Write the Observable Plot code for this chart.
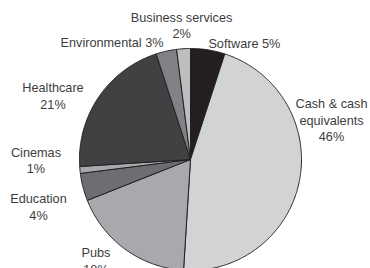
<!DOCTYPE html>
<html>
<head>
<meta charset="utf-8">
<script src="https://cdn.jsdelivr.net/npm/d3@7"></script>
<script src="https://cdn.jsdelivr.net/npm/@observablehq/plot@0.6"></script>
<style>
  html, body { margin: 0; padding: 0; background: #fff; }
  #chart svg { display: block; }
</style>
</head>
<body>
<div id="chart"></div>
<script>
// ---- Data ----
const categories = ["Software", "Cash & cash equivalents", "Pubs", "Education", "Cinemas", "Healthcare", "Environmental", "Business services"];
const values = [5, 46, 18, 4, 1, 21, 3, 2];
const labels = ["Software 5%", "Cash & cash\nequivalents\n46%", "Pubs\n18%", "Education\n4%", "Cinemas\n1%", "Healthcare\n21%", "Environmental 3%", "Business services\n2%"];
const colors = ["#231f20", "#d1d3d4", "#a7a9ac", "#6d6e71", "#a7a9ac", "#414042", "#808285", "#bcbec0"];

// ---- Label layout (polar: angle clockwise from top in degrees, radius relative to pie) ----
const labelAngle = [8.7, 74.2, 223.2, 253, 270, 295, 347.1, 356.2];
const labelRadius = [1.066, 1.32, 1.244, 1.432, 1.392, 1.367, 1.09, 1.215];
const labelAnchor = ["start", "middle", "middle", "middle", "middle", "middle", "end", "middle"];

// ---- Build slice polygons with d3.pie ----
const pie = d3.pie().sort(null).value(d => d.value);
const arcs = pie(categories.map((c, i) => ({category: c, value: values[i]})));
const slicePoints = [];
for (const a of arcs) {
  const c = a.data.category;
  slicePoints.push({category: c, x: 0, y: 0});
  const steps = Math.max(4, Math.ceil((a.endAngle - a.startAngle) / (Math.PI / 360)));
  for (let k = 0; k <= steps; k++) {
    const t = a.startAngle + (a.endAngle - a.startAngle) * k / steps;
    slicePoints.push({category: c, x: Math.sin(t), y: Math.cos(t)});
  }
  slicePoints.push({category: c, x: 0, y: 0});
}

const labelData = categories.map((c, i) => {
  const t = labelAngle[i] * Math.PI / 180;
  return {category: c, text: labels[i], x: labelRadius[i] * Math.sin(t), y: labelRadius[i] * Math.cos(t), anchor: labelAnchor[i]};
});

const textStyle = {fontSize: 12.7, fill: "#3d3d3d", lineHeight: 1.3, lineAnchor: "middle"};

const chart = Plot.plot({
  width: 370,
  height: 268,
  margin: 0,
  style: {fontFamily: "'Liberation Sans', Helvetica, Arial, sans-serif", background: "#fff"},
  x: {domain: [-1, 1], range: [79, 301], axis: null},
  y: {domain: [-1, 1], range: [270, 48], axis: null},
  color: {domain: categories, range: colors},
  marks: [
    Plot.line(slicePoints, {x: "x", y: "y", z: "category", fill: "category", stroke: "#231f20", strokeWidth: 1, strokeLinejoin: "round"}),
    ...["start", "middle", "end"].map(anc =>
      Plot.text(labelData.filter(d => d.anchor === anc), {x: "x", y: "y", text: "text", textAnchor: anc, ...textStyle})
    )
  ]
});
document.getElementById("chart").append(chart);
</script>
</body>
</html>
